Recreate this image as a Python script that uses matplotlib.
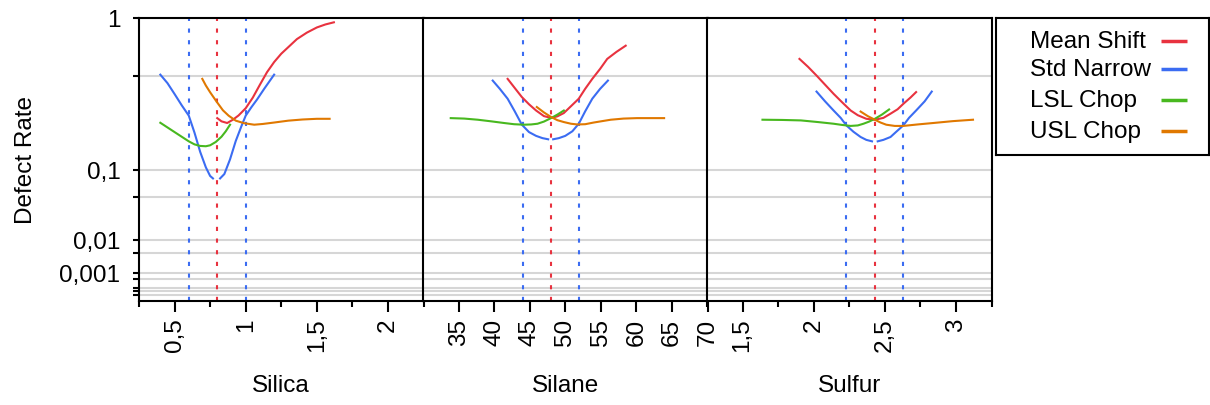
import numpy as np
import matplotlib
matplotlib.use("Agg")
import matplotlib.pyplot as plt
from matplotlib.ticker import FixedLocator, NullFormatter

plt.rcParams['font.family'] = ['Liberation Sans', 'DejaVu Sans']
plt.rcParams['font.size'] = 17.5

# ---- data ----
series_names = ["Mean Shift", "Std Narrow", "LSL Chop", "USL Chop"]
series_colors = ["#e8323f", "#3b6cf2", "#48b81f", "#e07800"]

factors = ["Silica", "Silane", "Sulfur"]
spec_lsl = [0.6, 44, 2.23]
spec_target = [0.8, 48, 2.43]
spec_usl = [1.0, 52, 2.63]

# Silica
silica_mean_x = [0.80, 0.83, 0.87, 0.91, 0.95, 1.00, 1.05, 1.10, 1.15, 1.20, 1.25,
                 1.30, 1.36, 1.43, 1.50, 1.56, 1.62]
silica_mean_y = [0.269, 0.255, 0.248, 0.262, 0.281, 0.315, 0.37, 0.445, 0.527, 0.60, 0.665,
                 0.72, 0.79, 0.85, 0.90, 0.93, 0.952]
silica_std_x = [0.40, 0.45, 0.50, 0.55, 0.60, 0.64, 0.68, 0.72, 0.75, 0.77, np.nan,
                0.82, 0.85, 0.89, 0.93, 0.97, 1.00, 1.04, 1.08, 1.13, 1.17, 1.20]
silica_std_y = [0.51, 0.455, 0.39, 0.33, 0.28, 0.21, 0.146, 0.105, 0.086, 0.081, np.nan,
                0.081, 0.09, 0.125, 0.18, 0.235, 0.28, 0.32, 0.36, 0.42, 0.47, 0.51]
silica_lsl_x = [0.40, 0.45, 0.50, 0.55, 0.60, 0.64, 0.68, 0.72, 0.75, 0.79, 0.83, 0.86, 0.89]
silica_lsl_y = [0.249, 0.23, 0.212, 0.195, 0.179, 0.169, 0.164, 0.163, 0.166, 0.177, 0.195,
                0.215, 0.241]
silica_usl_x = [0.695, 0.72, 0.75, 0.795, 0.84, 0.88, 0.93, 0.99, 1.06, 1.12, 1.20, 1.30,
                1.40, 1.50, 1.59]
silica_usl_y = [0.482, 0.44, 0.40, 0.349, 0.305, 0.28, 0.258, 0.247, 0.241, 0.244, 0.25,
                0.258, 0.263, 0.266, 0.266]

# Silane
silane_mean_x = [41.9, 42.9, 43.9, 44.9, 45.9, 47.0, 48.0, 48.9, 49.8, 50.8, 51.9, 52.8,
                 53.8, 54.9, 55.9, 57.2, 58.5]
silane_mean_y = [0.482, 0.425, 0.373, 0.335, 0.304, 0.278, 0.27, 0.277, 0.292, 0.325, 0.364,
                 0.42, 0.482, 0.55, 0.624, 0.68, 0.732]
silane_std_x = [39.8, 40.8, 41.9, 42.9, 43.9, 44.9, 45.9, 46.8, 47.6, np.nan,
                48.3, 49.1, 50.0, 51.0, 51.9, 52.8, 53.8, 54.9, 56.0]
silane_std_y = [0.471, 0.42, 0.364, 0.30, 0.241, 0.212, 0.198, 0.19, 0.186, np.nan,
                0.186, 0.19, 0.198, 0.215, 0.245, 0.30, 0.364, 0.42, 0.471]
silane_lsl_x = [33.9, 35.8, 37.7, 39.6, 41.4, 42.8, 44.2, 45.2, 46.1, 47.0, 48.0, 48.9, 49.8]
silane_lsl_y = [0.269, 0.267, 0.262, 0.255, 0.248, 0.243, 0.241, 0.242, 0.245, 0.254, 0.269,
                0.285, 0.304]
silane_usl_x = [46.0, 47.0, 48.0, 48.9, 49.8, 50.8, 51.7, 52.8, 54.0, 55.2, 56.4, 58.2,
                60.1, 63.9]
silane_usl_y = [0.321, 0.295, 0.274, 0.26, 0.252, 0.245, 0.242, 0.243, 0.25, 0.256, 0.262,
                0.267, 0.269, 0.269]

# Sulfur
sulfur_mean_x = [1.90, 1.96, 2.02, 2.08, 2.14, 2.20, 2.26, 2.31, 2.37, 2.43, 2.49, 2.54,
                 2.59, 2.63, 2.68, 2.72]
sulfur_mean_y = [0.624, 0.565, 0.504, 0.445, 0.391, 0.345, 0.304, 0.282, 0.266, 0.262, 0.27,
                 0.289, 0.31, 0.337, 0.37, 0.401]
sulfur_std_x = [2.02, 2.08, 2.14, 2.19, 2.23, 2.28, 2.33, 2.37, 2.41, np.nan,
                2.45, 2.49, 2.54, 2.58, 2.63, 2.67, 2.72, 2.78, 2.83]
sulfur_std_y = [0.404, 0.35, 0.304, 0.27, 0.238, 0.213, 0.194, 0.184, 0.179, np.nan,
                0.179, 0.184, 0.194, 0.213, 0.238, 0.27, 0.304, 0.35, 0.404]
sulfur_lsl_x = [1.64, 1.78, 1.91, 2.03, 2.14, 2.20, 2.26, 2.31, 2.35, 2.39, 2.43, 2.48, 2.53]
sulfur_lsl_y = [0.262, 0.261, 0.259, 0.252, 0.245, 0.24, 0.236, 0.238, 0.245, 0.254, 0.266,
                0.285, 0.309]
sulfur_usl_x = [2.33, 2.38, 2.43, 2.47, 2.51, 2.57, 2.63, 2.73, 2.84, 2.98, 3.12]
sulfur_usl_y = [0.299, 0.278, 0.262, 0.25, 0.241, 0.236, 0.236, 0.242, 0.248, 0.256, 0.262]

panel_data = [
    [(silica_mean_x, silica_mean_y), (silica_std_x, silica_std_y),
     (silica_lsl_x, silica_lsl_y), (silica_usl_x, silica_usl_y)],
    [(silane_mean_x, silane_mean_y), (silane_std_x, silane_std_y),
     (silane_lsl_x, silane_lsl_y), (silane_usl_x, silane_usl_y)],
    [(sulfur_mean_x, sulfur_mean_y), (sulfur_std_x, sulfur_std_y),
     (sulfur_lsl_x, sulfur_lsl_y), (sulfur_usl_x, sulfur_usl_y)],
]

xlims = [(0.25, 2.25), (30, 70), (1.25, 3.25)]
x_major = [[0.5, 1, 1.5, 2], [35, 40, 45, 50, 55, 60, 65, 70], [1.5, 2, 2.5, 3]]
x_labels = [["0,5", "1", "1,5", "2"],
            ["35", "40", "45", "50", "55", "60", "65", "70"],
            ["1,5", "2", "2,5", "3"]]
x_minor = [[0.25, 0.75, 1.25, 1.75, 2.25], [], [1.25, 1.75, 2.25, 2.75, 3.25]]

y_major = [1, 0.1, 0.01, 0.001]
y_labels = ["1", "0,1", "0,01", "0,001"]
y_minor = [0.5, 0.05, 0.005, 0.0005, 0.0001, 0.00005, 0.00001]

# ---- figure ----
W, H = 1210, 406
fig = plt.figure(figsize=(W / 100, H / 100), dpi=100)
top_px, bot_px = 18.7, 302
lefts = [139, 423, 707]
width_px = 284.5

axes = []
for i in range(3):
    ax = fig.add_axes([lefts[i] / W, 1 - bot_px / H, width_px / W, (bot_px - top_px) / H])
    ax.set_yscale('function', functions=(np.cbrt, lambda v: np.power(v, 3)))
    ax.set_ylim(0, 1)
    ax.set_xlim(*xlims[i])
    ax.set_axisbelow(True)

    ax.yaxis.set_major_locator(FixedLocator(y_major))
    ax.yaxis.set_minor_locator(FixedLocator(y_minor))
    ax.yaxis.set_minor_formatter(NullFormatter())
    ax.grid(which='both', axis='y', color='#d6d6d6', lw=1.5)
    if i == 0:
        ax.set_yticks(y_major, y_labels)
        ax.set_ylabel("Defect Rate")
        ax.yaxis.set_label_coords(-0.36, 0.5)
    else:
        ax.tick_params(axis='y', which='both', left=False, labelleft=False)
    ax.tick_params(axis='y', which='both', length=4.5, width=1.5, pad=9)

    ax.set_xticks(x_major[i], x_labels[i], rotation=90)
    ax.set_xticks(x_minor[i], minor=True)
    ax.tick_params(axis='x', which='major', length=8, width=1.5, pad=4)
    ax.tick_params(axis='x', which='minor', length=4, width=1.5)
    ax.set_xlabel(factors[i])
    ax.xaxis.set_label_coords(0.5, -0.258)

    for s in ax.spines.values():
        s.set_linewidth(1.5)

    for xv, c in [(spec_lsl[i], series_colors[1]), (spec_target[i], series_colors[0]),
                  (spec_usl[i], series_colors[1])]:
        ax.axvline(xv, color=c, lw=1.5, ls=(0, (2, 3.6)), zorder=2)

    for (xs, ys), c in zip(panel_data[i], series_colors):
        ax.plot(xs, ys, color=c, lw=1.5, zorder=3)
    axes.append(ax)

# ---- legend box ----
lax = fig.add_axes([996 / W, 1 - 156 / H, 213 / W, (156 - 19) / H])
lax.set_xlim(0, 213)
lax.set_ylim(137, 0)
lax.set_xticks([])
lax.set_yticks([])
for s in lax.spines.values():
    s.set_linewidth(1.5)
row_y = [22.7, 51, 82, 112.7]
for name, c, ry in zip(series_names, series_colors, row_y):
    lax.text(34, ry, name, va='center', ha='left')
    lax.plot([165, 191], [ry, ry], color=c, lw=2.5, solid_capstyle='butt')

fig.savefig("out.png", dpi=100)
